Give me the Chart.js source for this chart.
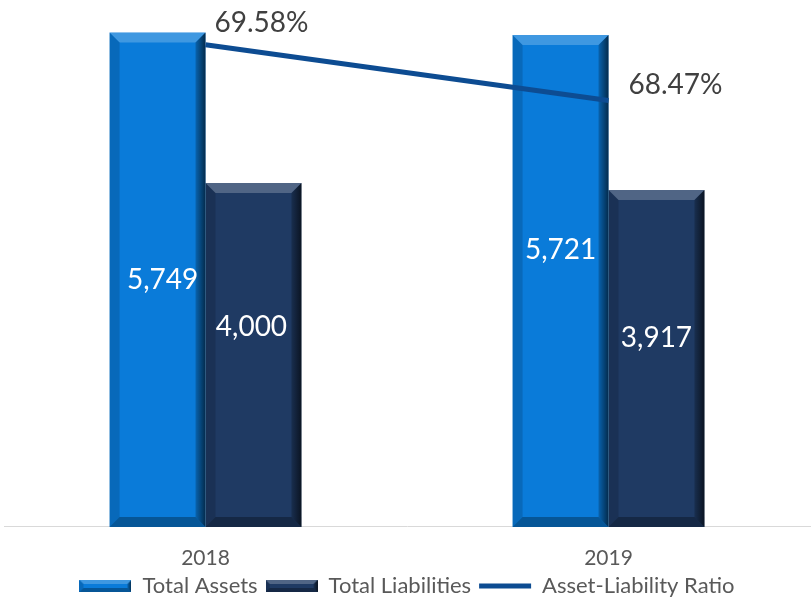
<!DOCTYPE html>
<html>
<head>
<meta charset="utf-8">
<script src="https://cdn.jsdelivr.net/npm/chart.js@4/dist/chart.umd.min.js"></script>
<style>
html,body{margin:0;padding:0;background:#fff;}
#wrap{width:811px;height:597px;}
</style>
</head>
<body>
<div id="wrap"><canvas id="chart" width="811" height="597"></canvas></div>
<script>
var years = ['2018', '2019'];
var totalAssets = [5749, 5721];
var totalLiabilities = [4000, 3917];
var assetLiabilityRatio = [69.58, 68.47];

var seriesNames = ['Total Assets', 'Total Liabilities', 'Asset-Liability Ratio'];

var assetsColor = '#0A7BD9';
var liabColor = '#1F3A63';
var ratioColor = '#0D4C92';
var textGray = '#595959';
var fontName = 'Lato, "Open Sans", sans-serif';

// bevel look like the office chart
function drawBevel(ctx, x0, y0, x1, y1, b) {
  ctx.save();
  ctx.fillStyle = 'rgba(255,255,255,0.22)';
  ctx.beginPath();
  ctx.moveTo(x0, y0); ctx.lineTo(x1, y0); ctx.lineTo(x1 - b, y0 + b); ctx.lineTo(x0 + b, y0 + b);
  ctx.closePath(); ctx.fill();

  ctx.fillStyle = 'rgba(0,0,0,0.14)';
  ctx.beginPath();
  ctx.moveTo(x0, y0); ctx.lineTo(x0 + b, y0 + b); ctx.lineTo(x0 + b, y1 - b); ctx.lineTo(x0, y1);
  ctx.closePath(); ctx.fill();

  var g = ctx.createLinearGradient(x1 - b, 0, x1, 0);
  g.addColorStop(0, 'rgba(0,0,0,0.2)');
  g.addColorStop(1, 'rgba(0,0,0,0.65)');
  ctx.fillStyle = g;
  ctx.beginPath();
  ctx.moveTo(x1, y0); ctx.lineTo(x1 - b, y0 + b); ctx.lineTo(x1 - b, y1 - b); ctx.lineTo(x1, y1);
  ctx.closePath(); ctx.fill();

  ctx.fillStyle = 'rgba(0,0,0,0.3)';
  ctx.beginPath();
  ctx.moveTo(x0, y1); ctx.lineTo(x0 + b, y1 - b); ctx.lineTo(x1 - b, y1 - b); ctx.lineTo(x1, y1);
  ctx.closePath(); ctx.fill();
  ctx.restore();
}

function makeSwatch(color) {
  var c = document.createElement('canvas');
  c.width = 52; c.height = 12;
  var cx = c.getContext('2d');
  cx.fillStyle = color;
  cx.fillRect(0, 0, 52, 12);
  drawBevel(cx, 0, 0, 52, 12, 4);
  return c;
}

var swatches = [makeSwatch(assetsColor), makeSwatch(liabColor), 'line'];

var bevelPlugin = {
  id: 'bevel',
  afterDatasetDraw: function(chart, args) {
    var meta = args.meta;
    if (meta.type !== 'bar') return;
    var ctx = chart.ctx;
    meta.data.forEach(function(bar) {
      var p = bar.getProps(['x', 'y', 'base', 'width'], true);
      drawBevel(ctx, p.x - p.width / 2, p.y, p.x + p.width / 2, p.base, 10);
    });
  }
};

var valueLabels = {
  id: 'valueLabels',
  afterDatasetsDraw: function(chart, args, opts) {
    var ctx = chart.ctx;
    ctx.save();
    ctx.font = '28px ' + fontName;
    ctx.textAlign = 'center';
    ctx.textBaseline = 'middle';
    chart.data.datasets.forEach(function(ds, di) {
      var meta = chart.getDatasetMeta(di);
      meta.data.forEach(function(el, i) {
        var v = ds.data[i];
        if (meta.type === 'bar') {
          var p = el.getProps(['x', 'y', 'base'], true);
          var sh = opts.barShift[di][i];
          ctx.fillStyle = '#ffffff';
          ctx.fillText(v.toLocaleString('en-US'), p.x + sh[0], (p.y + p.base) / 2 + sh[1]);
        } else {
          var sh2 = opts.lineShift[i];
          ctx.fillStyle = '#404040';
          ctx.fillText(v.toFixed(2) + '%', el.x + sh2[0], el.y + sh2[1]);
        }
      });
    });
    ctx.restore();
  }
};

var chartData = {
  labels: years,
  datasets: [
    {
      type: 'line',
      label: seriesNames[2],
      data: assetLiabilityRatio,
      borderColor: ratioColor,
      backgroundColor: ratioColor,
      borderWidth: 5,
      pointRadius: 0,
      yAxisID: 'y1',
      order: 0
    },
    {
      label: seriesNames[0],
      data: totalAssets,
      backgroundColor: assetsColor,
      yAxisID: 'y',
      order: 1
    },
    {
      label: seriesNames[1],
      data: totalLiabilities,
      backgroundColor: liabColor,
      yAxisID: 'y',
      order: 1
    }
  ]
};

var ctx = document.getElementById('chart');
var barGraph = new Chart(ctx, {
  type: 'bar',
  data: chartData,
  plugins: [bevelPlugin, valueLabels],
  options: {
    responsive: false,
    animation: false,
    layout: { padding: { top: 11, left: 4, right: 1, bottom: -10 } },
    datasets: { bar: { categoryPercentage: 0.476, barPercentage: 1 } },
    scales: {
      x: {
        grid: { display: true, color: 'rgba(0,0,0,0)', drawTicks: true, tickLength: 22, tickColor: 'rgba(0,0,0,0)' },
        border: { display: true, color: '#d9d9d9', width: 1 },
        ticks: { color: textGray, font: { family: fontName, size: 21, lineHeight: 0.86 }, padding: 0 }
      },
      y: { display: false, min: 0, max: 6000 },
      y1: { display: false, min: 60, max: 70.25 }
    },
    plugins: {
      tooltip: { enabled: false },
      legend: {
        position: 'bottom',
        labels: {
          usePointStyle: true,
          pointStyleWidth: 52,
          boxHeight: 12,
          padding: 8,
          color: textGray,
          font: { family: fontName, size: 22 },
          sort: function(a, b) {
            var order = [1, 2, 0];
            return order.indexOf(a.datasetIndex) - order.indexOf(b.datasetIndex);
          },
          generateLabels: function(chart) {
            var items = Chart.defaults.plugins.legend.labels.generateLabels(chart);
            items.forEach(function(it) {
              var k = it.datasetIndex === 0 ? 2 : it.datasetIndex - 1;
              it.pointStyle = swatches[k];
              if (k === 2) { it.strokeStyle = ratioColor; it.lineWidth = 5; }
            });
            return items;
          }
        }
      },
      valueLabels: {
        barShift: [null, [[5, 0], [0, -31]], [[-2, -28], [0, -21]]],
        lineShift: [[56, -22], [67, -16]]
      }
    }
  }
});
</script>
</body>
</html>
